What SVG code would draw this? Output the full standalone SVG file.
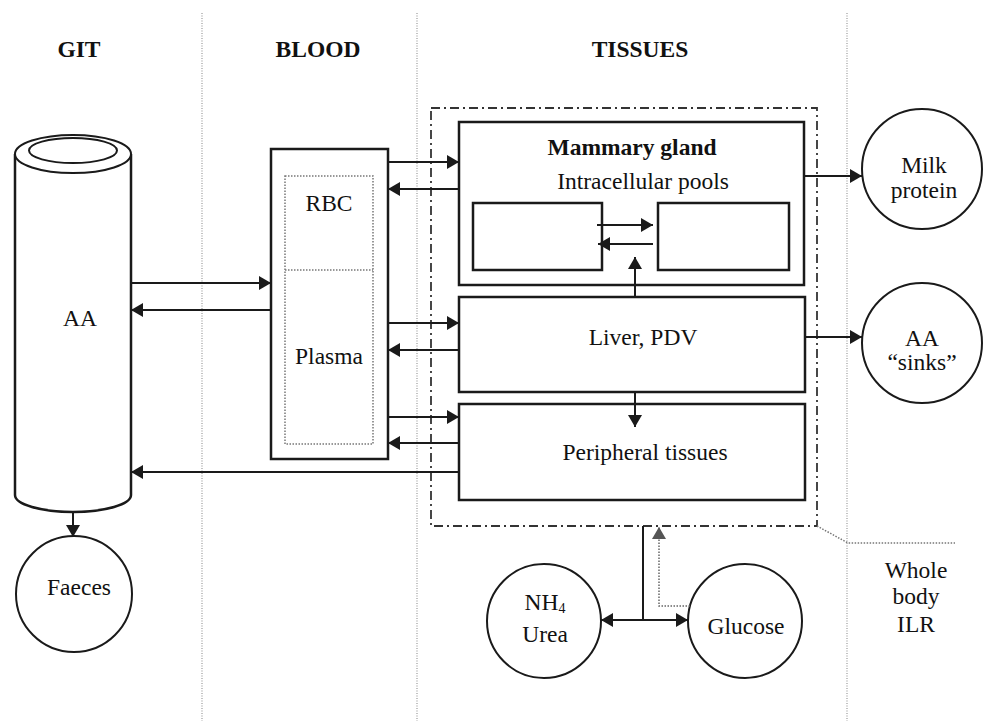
<svg xmlns="http://www.w3.org/2000/svg" width="984" height="721" viewBox="0 0 984 721">
<style>
.t{font-family:"Liberation Serif","Times New Roman",serif;font-size:23.5px;fill:#111;text-anchor:middle}
.b{font-weight:bold}
.box{fill:#fff;stroke:#1a1a1a;stroke-width:2.5}
.circ{fill:#fff;stroke:#1a1a1a;stroke-width:2}
.lane{stroke:#9a9a9a;stroke-width:1.2;stroke-dasharray:1 1.5;fill:none}
.dotg{stroke:#777;stroke-width:1.5;stroke-dasharray:1.5 1.5;fill:none}
.dd{stroke:#333;stroke-width:1.8;stroke-dasharray:9 4 2 4;fill:none}
.c{stroke:#1a1a1a;stroke-width:2;fill:none;marker-end:url(#ah)}
.cn{stroke:#1a1a1a;stroke-width:2;fill:none}
.cg{stroke:#666;stroke-width:1.5;stroke-dasharray:1.5 1.5;fill:none;marker-end:url(#ahg)}
</style>
<defs>
<marker id="ah" markerUnits="userSpaceOnUse" markerWidth="13" markerHeight="15" refX="12" refY="7" orient="auto">
<path d="M0,0 L12,7 L0,14 z" fill="#1a1a1a"/>
</marker>
<marker id="ahg" markerUnits="userSpaceOnUse" markerWidth="13" markerHeight="15" refX="12" refY="7" orient="auto">
<path d="M0,0 L12,7 L0,14 z" fill="#555"/>
</marker>
</defs>
<rect x="0" y="0" width="984" height="721" fill="#fff"/>

<g id="lanes">
<line class="lane" x1="202" y1="13" x2="202" y2="721"/>
<line class="lane" x1="417" y1="13" x2="417" y2="721"/>
<line class="lane" x1="847" y1="13" x2="847" y2="721"/>
</g>

<g id="headers">
<text class="t b" x="79" y="57">GIT</text>
<text class="t b" x="318" y="57">BLOOD</text>
<text class="t b" x="640" y="57">TISSUES</text>
</g>

<g id="whole-body-ilr">
<rect class="dd" x="431" y="108" width="386" height="418"/>
<path class="dotg" d="M817,526 L848,543 H955"/>
<text class="t" x="916" y="578">Whole</text>
<text class="t" x="916" y="604">body</text>
<text class="t" x="916" y="632">ILR</text>
</g>

<g id="git">
<path class="box" d="M15,154 V495 A58,17 0 0 0 131,495 V154"/>
<ellipse class="circ" cx="73" cy="154" rx="58" ry="19"/>
<ellipse class="circ" cx="73" cy="150.5" rx="44" ry="12.5"/>
<text class="t" x="80" y="326">AA</text>
</g>

<g id="faeces">
<circle class="circ" cx="74" cy="594" r="58"/>
<text class="t" x="79" y="595">Faeces</text>
</g>

<g id="blood">
<rect class="box" x="271" y="149" width="117" height="310"/>
<rect class="dotg" x="285" y="176" width="88" height="268"/>
<line class="dotg" x1="285" y1="270" x2="373" y2="270"/>
<text class="t" x="329" y="211">RBC</text>
<text class="t" x="329" y="364">Plasma</text>
</g>

<g id="mammary">
<rect class="box" x="459" y="122" width="345" height="163"/>
<text class="t b" x="632" y="155">Mammary gland</text>
<text class="t" x="643" y="189">Intracellular pools</text>
<rect class="box" x="473" y="203" width="129" height="67" stroke-width="2"/>
<rect class="box" x="658" y="203" width="131" height="67" stroke-width="2"/>
</g>

<g id="liver">
<rect class="box" x="459" y="297" width="346" height="95"/>
<text class="t" x="643" y="345">Liver, PDV</text>
</g>

<g id="peripheral">
<rect class="box" x="459" y="404" width="346" height="96"/>
<text class="t" x="645" y="460">Peripheral tissues</text>
</g>

<g id="milk">
<circle class="circ" cx="922" cy="169" r="60"/>
<text class="t" x="924" y="173">Milk</text>
<text class="t" x="924" y="198">protein</text>
</g>

<g id="sinks">
<circle class="circ" cx="922" cy="343" r="60"/>
<text class="t" x="922" y="346">AA</text>
<text class="t" x="922" y="370">“sinks”</text>
</g>

<g id="nh4urea">
<circle class="circ" cx="544" cy="621" r="57"/>
<text class="t" x="545" y="610">NH<tspan font-size="14" dy="3">4</tspan></text>
<text class="t" x="545" y="642">Urea</text>
</g>

<g id="glucose">
<circle class="circ" cx="745" cy="621" r="57"/>
<text class="t" x="746" y="634">Glucose</text>
</g>

<g id="connectors">
<path class="c" d="M131,283 H271"/>
<path class="c" d="M271,310 H131"/>
<path class="c" d="M388,162 H459"/>
<path class="c" d="M459,189 H388"/>
<path class="c" d="M388,323 H459"/>
<path class="c" d="M459,350 H388"/>
<path class="c" d="M388,417 H459"/>
<path class="c" d="M459,443 H388"/>
<path class="c" d="M459,472 H131"/>
<path class="c" d="M73,512 V537"/>
<path class="c" d="M804,176 H862"/>
<path class="c" d="M805,337 H862"/>
<path class="c" d="M597,225 H653"/>
<path class="c" d="M653,244 H598"/>
<path class="c" d="M635,297 V257"/>
<path class="c" d="M635,392 V427"/>
<path class="cn" d="M643,526 V620"/>
<path class="c" d="M643,620 H601"/>
<path class="c" d="M643,620 H688"/>
<path class="cg" d="M690,606 H659 V527"/>
</g>
</svg>
